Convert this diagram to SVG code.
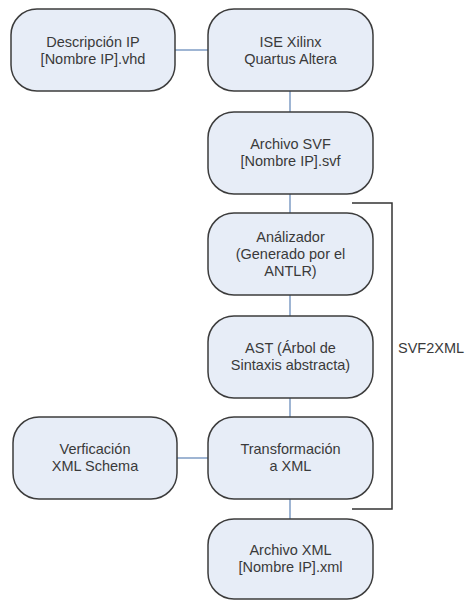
<svg xmlns="http://www.w3.org/2000/svg" width="465" height="601" viewBox="0 0 465 601">
<style>
.n{fill:#e7edf7;stroke:#3c3c3c;stroke-width:1.5}
.t{font-family:"Liberation Sans",Arial,sans-serif;font-size:14.5px;fill:#3a3a3a;text-anchor:middle}
.c{stroke:#7f9cc4;stroke-width:1.5;fill:none}
.b{stroke:#333;stroke-width:1.5;fill:none}
</style>
<rect width="465" height="601" fill="#fff"/>
<g id="connectors">
<line class="c" x1="175" y1="50" x2="208" y2="50"/>
<line class="c" x1="290" y1="91" x2="290" y2="112"/>
<line class="c" x1="290" y1="194" x2="290" y2="213"/>
<line class="c" x1="290" y1="295" x2="290" y2="316"/>
<line class="c" x1="290" y1="398" x2="290" y2="417"/>
<line class="c" x1="177" y1="458" x2="208" y2="458"/>
<line class="c" x1="290" y1="499" x2="290" y2="519"/>
</g>
<g id="bracket">
<polyline class="b" points="352,203 392,203 392,509 352,509"/>
<text class="t" x="398" y="353" style="text-anchor:start">SVF2XML</text>
</g>
<g id="n1">
<rect class="n" x="11" y="9" width="164" height="82" rx="26"/>
<text class="t" x="93" y="47">Descripción IP</text>
<text class="t" x="93" y="64">[Nombre IP].vhd</text>
</g>
<g id="n2">
<rect class="n" x="208" y="9" width="165" height="82" rx="26"/>
<text class="t" x="290.5" y="47">ISE Xilinx</text>
<text class="t" x="290.5" y="64">Quartus Altera</text>
</g>
<g id="n3">
<rect class="n" x="208" y="112" width="165" height="82" rx="26"/>
<text class="t" x="290.5" y="149">Archivo SVF</text>
<text class="t" x="290.5" y="166">[Nombre IP].svf</text>
</g>
<g id="n4">
<rect class="n" x="208" y="213" width="165" height="82" rx="26"/>
<text class="t" x="290.5" y="242">Análizador</text>
<text class="t" x="290.5" y="259">(Generado por el</text>
<text class="t" x="290.5" y="276">ANTLR)</text>
</g>
<g id="n5">
<rect class="n" x="208" y="316" width="165" height="82" rx="26"/>
<text class="t" x="290.5" y="353">AST (Árbol de</text>
<text class="t" x="290.5" y="370">Sintaxis abstracta)</text>
</g>
<g id="n6">
<rect class="n" x="208" y="417" width="165" height="82" rx="26"/>
<text class="t" x="290.5" y="454">Transformación</text>
<text class="t" x="290.5" y="471">a XML</text>
</g>
<g id="n7">
<rect class="n" x="208" y="519" width="165" height="80" rx="26"/>
<text class="t" x="290.5" y="555">Archivo XML</text>
<text class="t" x="290.5" y="572">[Nombre IP].xml</text>
</g>
<g id="n8">
<rect class="n" x="13" y="417" width="164" height="82" rx="26"/>
<text class="t" x="95" y="454">Verficación</text>
<text class="t" x="95" y="471">XML Schema</text>
</g>
</svg>
